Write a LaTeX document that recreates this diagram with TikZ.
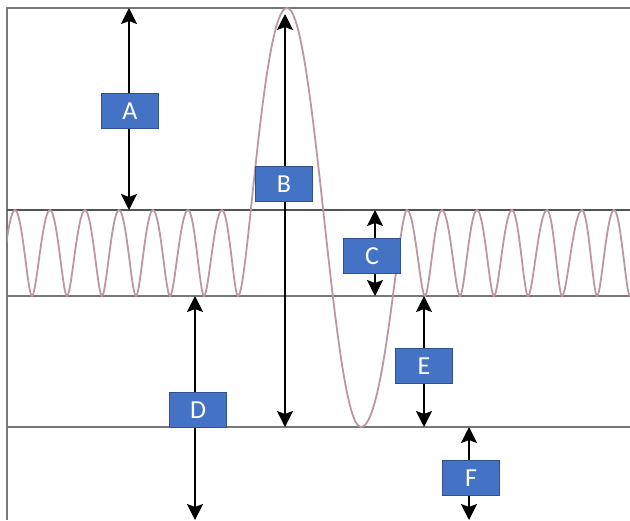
\documentclass[tikz,border=0pt]{standalone}
\usepackage{fontspec}
\setmainfont{Carlito}
\usetikzlibrary{arrows.meta}
\definecolor{boxBlue}{RGB}{68,114,196}
\definecolor{boxEdge}{RGB}{47,82,143}
\definecolor{waveRose}{RGB}{188,150,160}
\definecolor{lineGray}{RGB}{120,120,120}

\begin{document}
\begin{tikzpicture}[x=0.5pt, y=-0.5pt,
    level/.style={lineGray, line width=1pt},
    wave/.style={waveRose, line width=0.9pt},
    span/.style={{Stealth[length=8pt, width=8pt, inset=1.5pt]}-{Stealth[length=8pt, width=8pt, inset=1.5pt]}, line width=1.1pt},
    tag/.style={fill=boxBlue, draw=boxEdge, line width=0.4pt, text=white,
      minimum width=28.5pt, minimum height=17.5pt, inner sep=0pt,
      font=\fontsize{13}{13}\selectfont}]
  \useasboundingbox (0,0) rectangle (630,520);

  % Levels
  \coordinate (topL) at (7,8);
  \coordinate (topR) at (630,8);
  \coordinate (botL) at (7,520);

  \draw[level] (botL) -- (topL) -- (topR);
  \draw[level, lineGray!70!black] (7,210) -- (630,210);
  \draw[level] (7,296) -- (630,296);
  \draw[level] (7,427) -- (630,427);

  % Signal: small carrier with one large swing
  \begin{scope}
    \clip (7,0) rectangle (630,520);
    \draw[wave] (-3,296)
      \foreach \x/\y/\a/\b [remember=\x as \px (initially -3),
                            remember=\y as \py (initially 296)] in
        {15/210/.25/.42, 32/296/.42/.25, 50/210/.25/.42, 67/296/.42/.25,
         85/210/.25/.42, 102/296/.42/.25, 119/210/.25/.42, 136/296/.42/.25,
         153/210/.25/.42, 170/296/.42/.25, 188/210/.25/.42, 204/296/.42/.25,
         222/210/.25/.42, 238/296/.42/.25,
         287/8/.2/.5, 361/427/.38/.38, 407/210/.52/.18,
         425/296/.42/.25, 442/210/.25/.42, 460/296/.42/.25, 477/210/.25/.42,
         494/296/.42/.25, 512/210/.25/.42, 528/296/.42/.25, 547/210/.25/.42,
         562/296/.42/.25, 582/210/.25/.42, 597/296/.42/.25, 614/210/.25/.42,
         630/296/.42/.25, 648/210/.25/.42}
      { .. controls ({\px+\a*(\x-\px)},\py) and ({\x-\b*(\x-\px)},\y) .. (\x,\y) };
  \end{scope}

  % Measure arrows
  \coordinate (aT) at (129,8);   \coordinate (aB) at (129,210);
  \coordinate (bT) at (285,14);  \coordinate (bB) at (285,427);
  \coordinate (cT) at (375,210); \coordinate (cB) at (375,296);
  \coordinate (dT) at (195,296); \coordinate (dB) at (195,520);
  \coordinate (eT) at (424,296); \coordinate (eB) at (424,427);
  \coordinate (fT) at (469,427); \coordinate (fB) at (469,520);

  \draw[span] (aT) -- (aB);
  \draw[span] (bT) -- (bB);
  \draw[span] (cT) -- (cB);
  \draw[span] (dT) -- (dB);
  \draw[span] (eT) -- (eB);
  \draw[span] (fT) -- (fB);

  \node[tag] (lblA) at (130,111) {A};
  \node[tag] (lblB) at (284,184) {B};
  \node[tag] (lblC) at (372,256) {C};
  \node[tag] (lblD) at (198,410) {D};
  \node[tag] (lblE) at (424,366) {E};
  \node[tag] (lblF) at (471,478) {F};
\end{tikzpicture}
\end{document}
